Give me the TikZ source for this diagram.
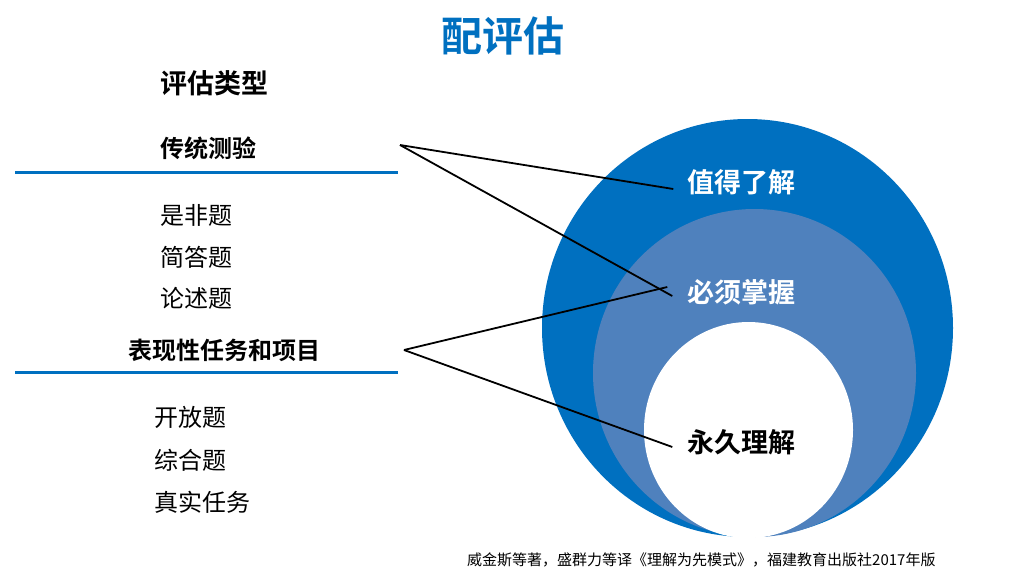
\documentclass[tikz,border=0pt]{standalone}
\usepackage{fontspec}
\setmainfont{Noto Sans CJK SC}[BoldFont={Noto Sans CJK SC Bold}]
\definecolor{outerblue}{HTML}{0070C0}
\definecolor{midblue}{HTML}{4F81BD}
\begin{document}
\begin{tikzpicture}[x=1pt,y=-1pt,
  txt/.style={inner sep=0pt,anchor=west,font=\fontsize{24}{28}\selectfont},
  hdr/.style={txt,font=\fontsize{24}{28}\selectfont\bfseries},
  lbl/.style={inner sep=0pt,anchor=center,font=\fontsize{27}{30}\selectfont\bfseries},
  rule/.style={outerblue,line width=3pt},
  conn/.style={black,line width=1.8pt}]
\useasboundingbox[fill=white] (0,0) rectangle (1022,576);
% title
\node[inner sep=0pt,text=outerblue,font=\fontsize{41}{44}\selectfont\bfseries] (title) at (503,36) {配评估};
% circles
\fill[outerblue] (747.5,328) ellipse [x radius=205.5, y radius=209];
\fill[midblue] (754.5,373) ellipse [x radius=161.5, y radius=164];
\fill[white] (748.5,430) ellipse [x radius=104.5, y radius=108];
% left column
\node[hdr,font=\fontsize{27}{30}\selectfont\bfseries] (types) at (160,83) {评估类型};
\node[hdr] (trad) at (160,148) {传统测验};
\coordinate (r1a) at (15,172);
\coordinate (r1b) at (398,172);
\draw[rule] (r1a) -- (r1b);
\node[txt] (t1) at (160,215) {是非题};
\node[txt] (t2) at (160,257) {简答题};
\node[txt] (t3) at (160,298) {论述题};
\node[hdr] (perf) at (128,350) {表现性任务和项目};
\coordinate (r2a) at (15,372);
\coordinate (r2b) at (398,372);
\draw[rule] (r2a) -- (r2b);
\node[txt] (p1) at (154,417) {开放题};
\node[txt] (p2) at (154,460) {综合题};
\node[txt] (p3) at (154,502) {真实任务};
% labels in circles
\node[lbl,text=white] (v1) at (741.5,182) {值得了解};
\node[lbl,text=white] (v2) at (741.5,292) {必须掌握};
\node[lbl,text=black] (v3) at (741.5,442) {永久理解};
% connectors
\coordinate (a1) at (400,145);
\coordinate (a2) at (404,350);
\draw[conn] (a1) -- ([xshift=-14,yshift=-7]v1.west);
\draw[conn] (a1) -- ([xshift=-15,yshift=-4]v2.west);
\draw[conn] (a2) -- ([xshift=-20,yshift=5]v2.west);
\draw[conn] (a2) -- ([xshift=-15,yshift=-5]v3.west);
% footer
\node[inner sep=0pt,anchor=west,font=\fontsize{15}{18}\selectfont] (src) at (467,560) {威金斯等著，盛群力等译《理解为先模式》，福建教育出版社2017年版};
\end{tikzpicture}
\end{document}
